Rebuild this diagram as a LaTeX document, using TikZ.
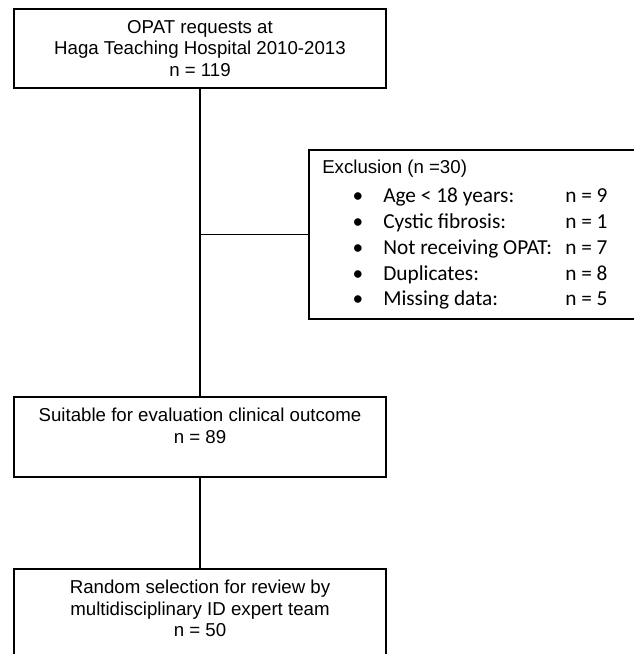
\documentclass[tikz,border=0pt]{standalone}
\usepackage{fontspec}
\setmainfont{Liberation Sans}
\newfontfamily\calfont{Carlito}
\begin{document}
\begin{tikzpicture}[x=0.75pt,y=-0.75pt,
  box/.style={draw, line width=0.9pt, inner sep=0pt},
  lbl/.style={font=\fontsize{14}{16.1}\selectfont, align=center, inner sep=0pt},
  item/.style={font=\calfont\fontsize{16}{19}\selectfont, inner sep=0pt, anchor=base west},
  bul/.style={font=\calfont\fontsize{16}{19}\selectfont, inner sep=0pt, anchor=base},
  conn/.style={line width=0.9pt}]
\useasboundingbox (0,0) rectangle (633,654);
\node[box, lbl, minimum width=279pt, minimum height=59.25pt] (top) at (200,48.5)
  {OPAT requests at\\Haga Teaching Hospital 2010-2013\\n = 119};
\node[box, minimum width=279pt, minimum height=60pt] (mid) at (200,437) {};
\node[lbl] (midtxt) at (200,426) {Suitable for evaluation clinical outcome\\n = 89};
\node[box, minimum width=279pt, minimum height=72pt] (bot) at (200,617) {};
\node[lbl] (bottxt) at (200,608.5) {Random selection for review by\\multidisciplinary ID expert team\\n = 50};
\node[box, minimum width=255.75pt, minimum height=126.75pt] (excl) at (479.5,234.5) {};
\node[lbl, anchor=base west] (excltitle) at (322,173.7) {Exclusion (n =30)};
\foreach \i/\lab/\n/\y in {1/Age < 18 years:/9/202, 2/Cystic fibrosis:/1/228.5,
  3/Not receiving OPAT:/7/254, 4/Duplicates:/8/280, 5/Missing data:/5/305.5} {
  \node[bul] (b\i) at (358,\y) {•};
  \node[item] (l\i) at (383,\y) {\lab};
  \node[item] (n\i) at (565,\y) {n = \n};
}
\draw[conn] (top.south) -- (mid.north);
\draw[conn] (mid.south) -- (bot.north);
\draw[conn] (top.south |- excl.west) -- (excl.west);
\end{tikzpicture}
\end{document}
